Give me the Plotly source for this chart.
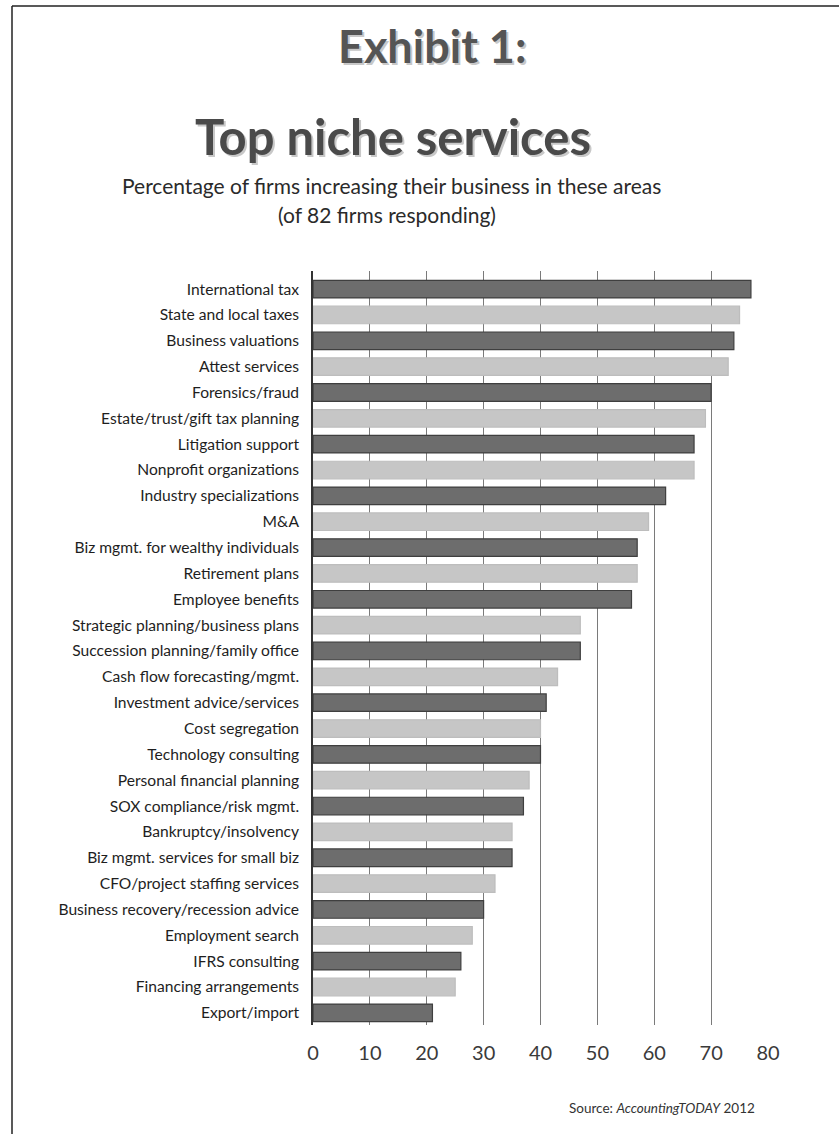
import plotly.graph_objects as go

categories = [
    "International tax", "State and local taxes", "Business valuations", "Attest services",
    "Forensics/fraud", "Estate/trust/gift tax planning", "Litigation support",
    "Nonprofit organizations", "Industry specializations", "M&A",
    "Biz mgmt. for wealthy individuals", "Retirement plans", "Employee benefits",
    "Strategic planning/business plans", "Succession planning/family office",
    "Cash flow forecasting/mgmt.", "Investment advice/services", "Cost segregation",
    "Technology consulting", "Personal financial planning", "SOX compliance/risk mgmt.",
    "Bankruptcy/insolvency", "Biz mgmt. services for small biz", "CFO/project staffing services",
    "Business recovery/recession advice", "Employment search", "IFRS consulting",
    "Financing arrangements", "Export/import",
]
values = [77, 75, 74, 73, 70, 69, 67, 67, 62, 59, 57, 57, 56, 47, 47, 43, 41, 40, 40, 38,
          37, 35, 35, 32, 30, 28, 26, 25, 21]
x_ticks = [0, 10, 20, 30, 40, 50, 60, 70, 80]

W, H = 839, 1134
DARK, LIGHT = "#6d6d6d", "#c6c6c6"
fills = [DARK if i % 2 == 0 else LIGHT for i in range(len(categories))]
lines = ["#3f3f3f" if i % 2 == 0 else "#bdbdbd" for i in range(len(categories))]

fig = go.Figure(go.Bar(
    y=categories, x=values, orientation="h", width=0.68,
    marker=dict(color=fills, line=dict(color=lines, width=1.2)),
))

px = lambda v: v / W
py = lambda v: 1 - v / H

fig.update_layout(
    width=W, height=H, margin=dict(l=0, r=0, t=0, b=0),
    paper_bgcolor="white", plot_bgcolor="white", showlegend=False,
    font=dict(family="Lato", color="#2a2a2a"),
    xaxis=dict(domain=[px(313), px(768)], range=[0, 80], tickvals=x_ticks,
               showgrid=True, gridcolor="#7a7a7a", gridwidth=1, zeroline=False,
               showline=False, ticks="", tickfont=dict(size=20, color="#3a3a3a"),
               ticklabelstandoff=14, automargin=False, anchor="y"),
    yaxis=dict(domain=[py(1025), py(271)], range=[28.47, -0.7], type="category",
               showline=True, linecolor="#333333", linewidth=1.6, showgrid=False,
               ticks="", tickfont=dict(size=15.6, color="#1e1e1e"),
               ticklabelstandoff=9, automargin=False, anchor="x"),
    shapes=[
        dict(type="line", xref="paper", yref="paper", x0=px(12), x1=px(12), y0=py(6), y1=py(H),
             line=dict(color="#222222", width=1.5)),
        dict(type="line", xref="paper", yref="paper", x0=px(12), x1=1, y0=py(6), y1=py(6),
             line=dict(color="#222222", width=1.5)),
    ],
)

def text(s, x, y, size, bold=False, color="#444", shadow=False):
    if shadow:
        fig.add_annotation(text=s, x=px(x + 2), y=py(y + 2), xref="paper", yref="paper",
                           showarrow=False, xanchor="center", yanchor="middle",
                           font=dict(size=size, color="#c8c8c8", family="Lato",
                                     weight="bold" if bold else "normal"))
    fig.add_annotation(text=s, x=px(x), y=py(y), xref="paper", yref="paper",
                       showarrow=False, xanchor="center", yanchor="middle",
                       font=dict(size=size, color=color, family="Lato",
                                 weight="bold" if bold else "normal"))

text("Exhibit 1:", 432, 46, 45, bold=True, color="#555555", shadow=True)
text("Top niche services", 393, 136, 49, bold=True, color="#4a4a4a", shadow=True)
text("Percentage of firms increasing their business in these areas", 391, 186, 21, color="#2a2a2a")
text("(of 82 firms responding)", 387, 214, 21, color="#2a2a2a")
text("Source: <i>AccountingTODAY</i> 2012", 662, 1108, 13.5, color="#333333")

fig.write_html("out.html")
